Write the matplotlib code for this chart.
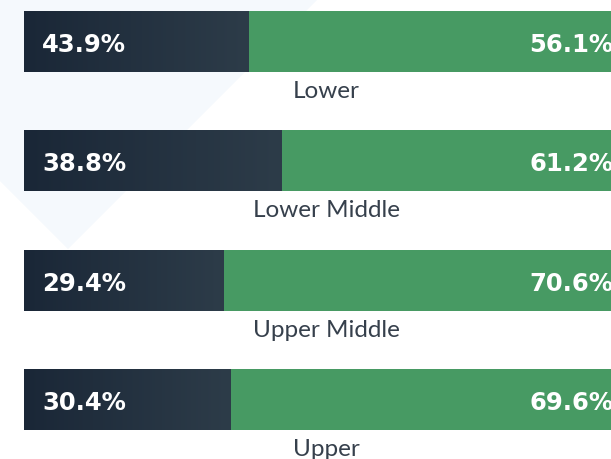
import numpy as np
import matplotlib
matplotlib.use("Agg")
import matplotlib.pyplot as plt
from matplotlib.patches import Polygon
from matplotlib.colors import LinearSegmentedColormap

# income groups, top to bottom
groups = ["Lower", "Lower Middle", "Upper Middle", "Upper"]
dark_labels = ["43.9%", "38.8%", "29.4%", "30.4%"]
green_labels = ["56.1%", "61.2%", "70.6%", "69.6%"]
# length of the dark part as drawn, in % of the whole bar
dark_len = [37.1, 42.6, 33.1, 34.2]

green = "#479a63"
text_col = "#36404c"
dark_cmap = LinearSegmentedColormap.from_list("dark", ["#1a2737", "#2d3c49"])

fig = plt.figure(figsize=(6.11, 4.60), dpi=100)
ax = fig.add_axes([0, 0, 1, 1])
ax.axis("off")

# faint background diamond
diamond = Polygon([[0, 1 - 182 / 460], [68 / 611, 1 - 250 / 460], [318 / 611, 1.0], [0, 1.0]],
                  closed=True, transform=ax.transAxes, facecolor="#f5f9fd",
                  edgecolor="none", zorder=0)
ax.add_patch(diamond)

y = np.arange(len(groups))
h = 0.508
grad = np.linspace(0, 1, 256).reshape(1, -1)

full = ax.barh(y, 100, height=h, color=green, zorder=2)
dark = ax.barh(y, dark_len, height=h, color="#1f2d3c", zorder=3)

for i, bar in enumerate(dark):
    im = ax.imshow(grad, cmap=dark_cmap, aspect="auto", zorder=4,
                   extent=[0, dark_len[i], y[i] + h / 2, y[i] - h / 2])
    im.set_clip_path(bar)
    ax.text(2.95, y[i], dark_labels[i], color="white", fontsize=17.5,
            fontweight="bold", ha="left", va="center_baseline", zorder=5)
    ax.text(97.5, y[i], green_labels[i], color="white", fontsize=17.5,
            fontweight="bold", ha="right", va="center_baseline", zorder=5)
    ax.text(50, y[i] + 0.465, groups[i], color=text_col, fontsize=17.5,
            family="Lato", ha="center", va="baseline", zorder=5)

ax.set_xlim(-4.02, 97.13)
ax.set_ylim(3.495, -0.354)
fig.savefig("out.png", dpi=100)
